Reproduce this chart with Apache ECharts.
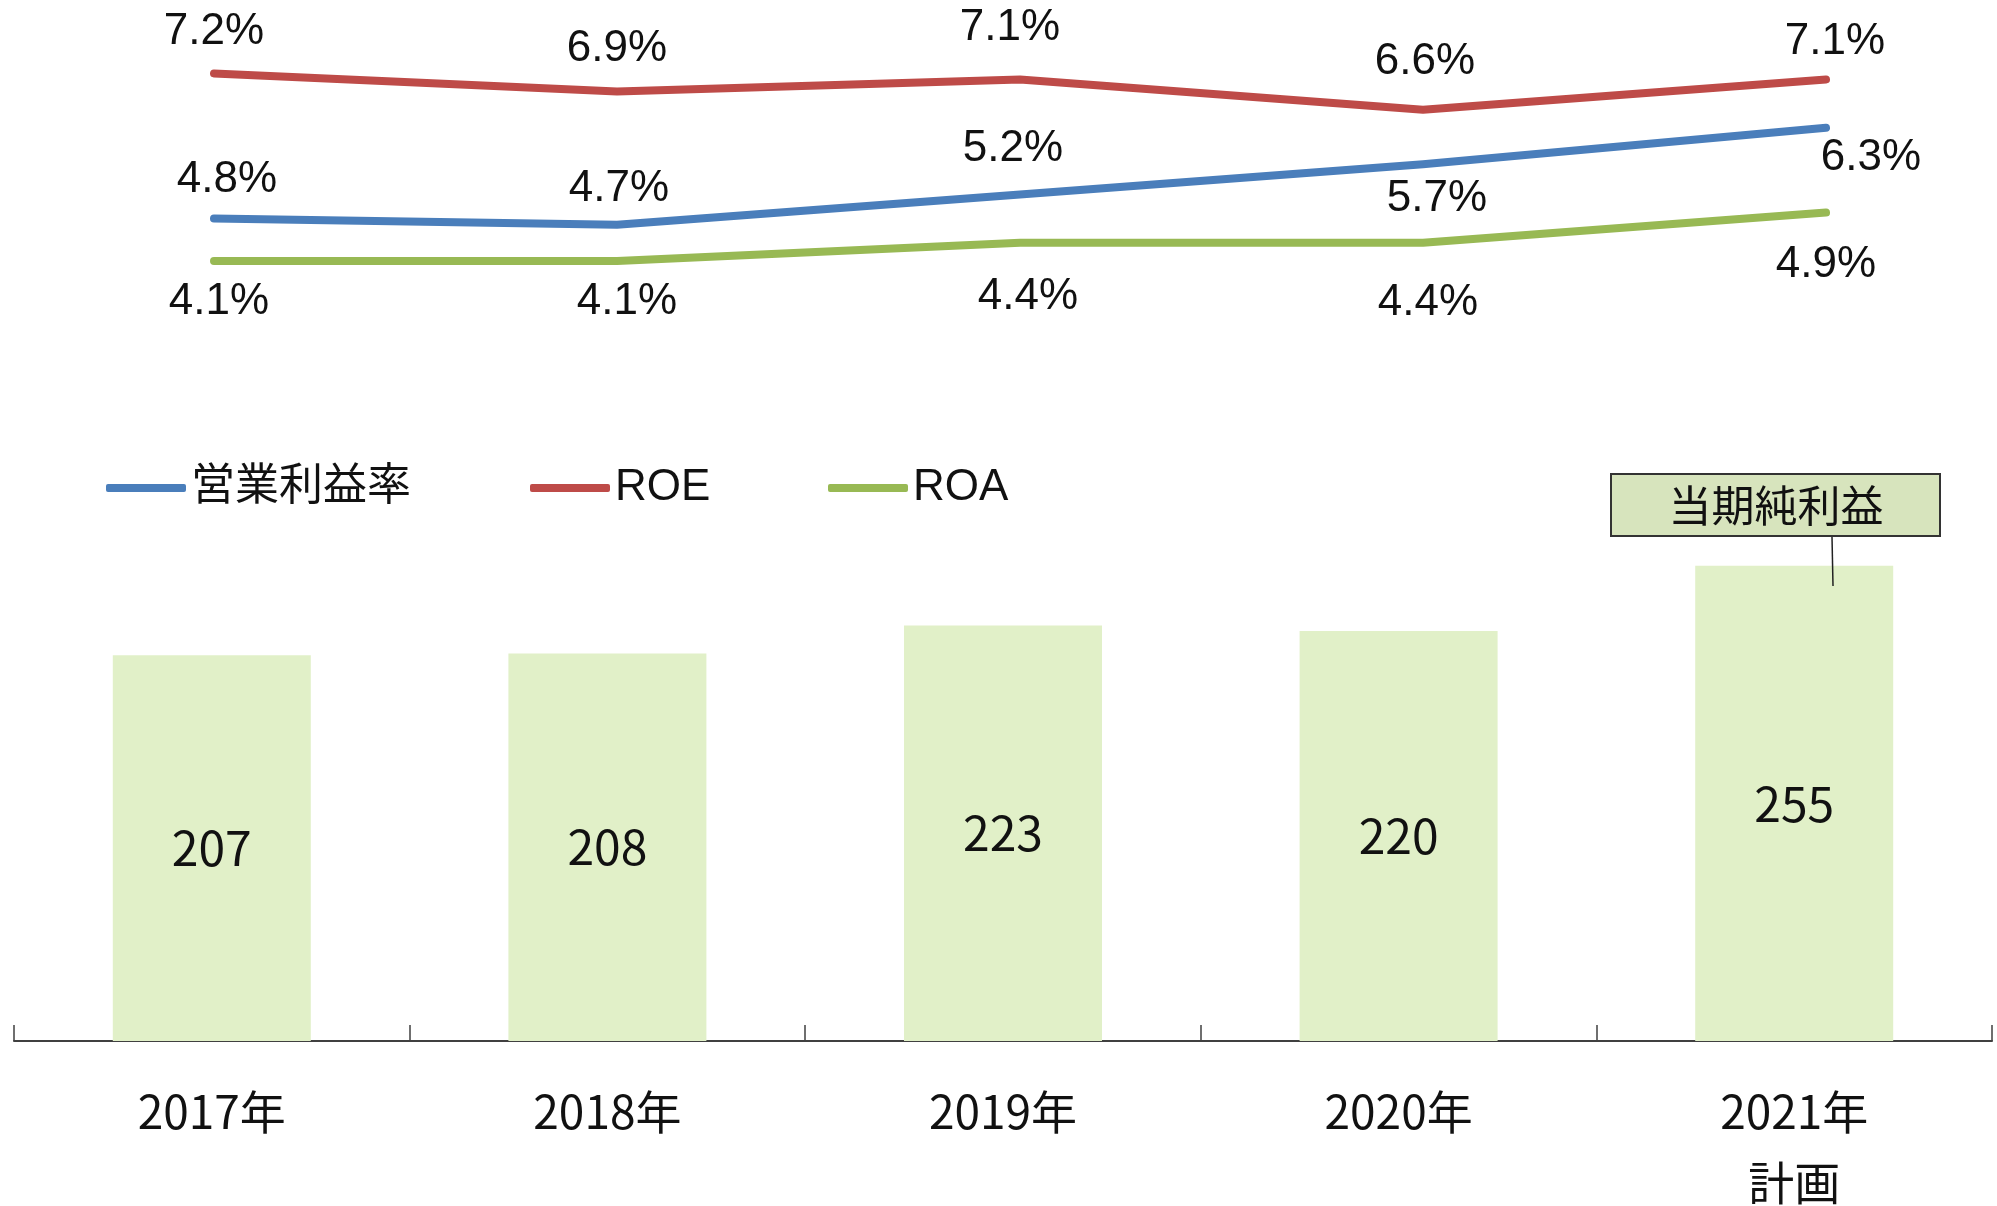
<!DOCTYPE html>
<html lang="ja">
<head>
<meta charset="utf-8">
<title>当期純利益・利益率推移</title>
<script src="https://cdn.jsdelivr.net/npm/echarts@6/dist/echarts.min.js"></script>
<style>
  html, body { margin: 0; padding: 0; background: #fff; }
  #chart { width: 1997px; height: 1206px; }
</style>
</head>
<body>
<div id="chart"></div>
<script>
const years = ["2017年", "2018年", "2019年", "2020年", "2021年\n計画"];
const netIncome = [207, 208, 223, 220, 255];
const operatingMargin = [4.8, 4.7, 5.2, 5.7, 6.3];
const roe = [7.2, 6.9, 7.1, 6.6, 7.1];
const roa = [4.1, 4.1, 4.4, 4.4, 4.9];

// label nudges per point [dx, dy] (layout only)
const marginLabelOffset = [[13, -39], [2, -36], [-7, -46], [14, 35], [45, 30]];
const roeLabelOffset = [[0, -42], [0, -43], [-10, -52], [2, -48], [9, -38]];
const roaLabelOffset = [[5, 41], [10, 41], [8, 54], [5, 60], [0, 52]];

const COLORS = { margin: "#4a7ebb", roe: "#be4b48", roa: "#98b954", bar: "#e1f0c8" };
const LATIN = "'Liberation Sans', Arial, 'Noto Sans CJK JP', sans-serif";
const JP = "'Noto Sans CJK JP', sans-serif";

const chart = echarts.init(document.getElementById("chart"), undefined, { renderer: "canvas" });

function lineSeries(name, values, offsets, color) {
  return {
    name,
    type: "line",
    xAxisIndex: 1,
    yAxisIndex: 1,
    data: values.map((v, i) => ({
      value: v,
      label: { offset: offsets[i] },
    })),
    symbol: "circle",
    symbolSize: 1,
    showSymbol: true,
    itemStyle: { color },
    lineStyle: { color, width: 8, cap: "round", join: "round" },
    label: {
      show: true,
      position: "inside",
      formatter: (p) => `${p.value.toFixed(1)}%`,
      fontFamily: LATIN,
      fontSize: 44,
      color: "#111",
    },
    animation: false,
    z: 5,
  };
}

function legendAt(left, name) {
  return {
    data: [name],
    left,
    top: 466,
    padding: 0,
    icon: "roundRect",
    itemWidth: 80,
    itemHeight: 8,
    itemGap: 5,
    textStyle: { fontFamily: LATIN, fontSize: 44, color: "#111", padding: [0, 0, 0, 0] },
    selectedMode: false,
  };
}

chart.setOption({
  backgroundColor: "#ffffff",
  animation: false,
  legend: [
    legendAt(106, "営業利益率"),
    legendAt(530, "ROE"),
    legendAt(828, "ROA"),
  ],
  grid: [
    { left: 14, width: 1978, top: 482, height: 559, containLabel: false, outerBoundsMode: "none" },
    { left: 214, width: 1612, top: 25, height: 484, containLabel: false, outerBoundsMode: "none" },
  ],
  xAxis: [
    {
      type: "category",
      gridIndex: 0,
      data: years,
      boundaryGap: true,
      axisLine: { show: true, lineStyle: { color: "#404040", width: 2 } },
      axisTick: { show: true, inside: true, length: 16, lineStyle: { color: "#404040", width: 1.5 } },
      axisLabel: {
        margin: 35,
        fontFamily: JP,
        fontSize: 46,
        lineHeight: 71,
        color: "#111",
        interval: 0,
        verticalAlign: "top",
      },
    },
    {
      type: "category",
      gridIndex: 1,
      data: years,
      boundaryGap: false,
      show: false,
    },
  ],
  yAxis: [
    { type: "value", gridIndex: 0, min: 0, max: 300, show: false },
    { type: "value", gridIndex: 1, min: 0, max: 8, show: false },
  ],
  series: [
    {
      name: "当期純利益",
      type: "bar",
      xAxisIndex: 0,
      yAxisIndex: 0,
      data: netIncome,
      barWidth: 198,
      itemStyle: { color: COLORS.bar },
      label: {
        show: true,
        position: "inside",
        fontFamily: JP,
        fontSize: 48,
        color: "#111",
      },
      z: 2,
    },
    lineSeries("営業利益率", operatingMargin, marginLabelOffset, COLORS.margin),
    lineSeries("ROE", roe, roeLabelOffset, COLORS.roe),
    lineSeries("ROA", roa, roaLabelOffset, COLORS.roa),
  ],
  graphic: [
    {
      type: "rect",
      shape: { x: 1611, y: 474, width: 329, height: 62 },
      style: { fill: "#d7e4bd", stroke: "#333333", lineWidth: 2 },
      z: 10,
    },
    {
      type: "text",
      x: 1776,
      y: 506,
      style: {
        text: "当期純利益",
        fontFamily: JP,
        fontSize: 43,
        fill: "#111",
        align: "center",
        verticalAlign: "middle",
      },
      z: 11,
    },
    {
      type: "line",
      shape: { x1: 1832, y1: 537, x2: 1833, y2: 586 },
      style: { stroke: "#222", lineWidth: 1.5 },
      z: 10,
    },
  ],
});

window.addEventListener("resize", () => chart.resize());
</script>
</body>
</html>
